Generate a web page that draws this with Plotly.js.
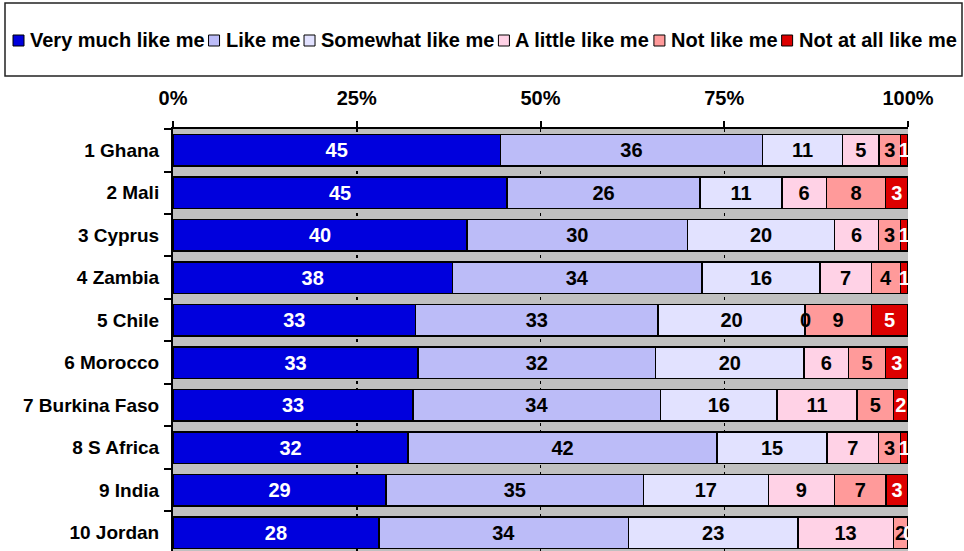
<!DOCTYPE html>
<html><head><meta charset="utf-8">
<script src="https://cdn.plot.ly/plotly-3.0.1.min.js"></script>
<style>html,body{margin:0;padding:0;background:#fff;} #chart{width:964px;height:551px;}</style>
</head><body><div id="chart"></div>
<script>
const countries = ["1 Ghana","2 Mali","3 Cyprus","4 Zambia","5 Chile","6 Morocco","7 Burkina Faso","8 S Africa","9 India","10 Jordan"];
const seriesNames = ["Very much like me","Like me","Somewhat like me","A little like me","Not like me","Not at all like me"];
const veryMuch = [45,45,40,38,33,33,33,32,29,28];
const likeMe   = [36,26,30,34,33,32,34,42,35,34];
const somewhat = [11,11,20,16,20,20,16,15,17,23];
const aLittle  = [5,6,6,7,0,6,11,7,9,13];
const notLike  = [3,8,3,4,9,5,5,3,7,2];
const notAtAll = [1,3,1,1,5,3,2,1,3,0];
const xTickVals = [0,25,50,75,100];
const xTickLabels = ["0%","25%","50%","75%","100%"];

const seriesValues = [veryMuch, likeMe, somewhat, aLittle, notLike, notAtAll];
const colors = ['#0000dd','#bcbcf8','#e2e2ff','#ffd2e6','#ff9a9a','#dd0000'];
const textColors = ['#fff','#000','#000','#000','#000','#fff'];
const FONT = '"Liberation Sans", Arial, sans-serif';

const traces = seriesValues.map((vals, i) => ({
  type: 'bar', orientation: 'h', name: seriesNames[i],
  x: vals, y: countries,
  text: vals.map(String), textposition: 'inside', insidetextanchor: 'middle',
  textangle: 0, constraintext: 'none',
  textfont: {family: FONT, size: 20, weight: 'bold', color: textColors[i]},
  marker: {color: colors[i], line: {color: '#000', width: 1.5}},
  hoverinfo: 'x+y+name'
}));

const annotations = [];
// zero-size segments still carry a "0" label at their (normalised) position
countries.forEach((c, r) => {
  const total = seriesValues.reduce((s, v) => s + v[r], 0);
  let cum = 0;
  seriesValues.forEach((vals, i) => {
    const v = vals[r];
    if (v === 0) {
      annotations.push({xref: 'x', yref: 'y', x: (cum + v / 2) / total * 100, y: c, text: '0',
        showarrow: false, xanchor: 'center', yanchor: 'middle', borderpad: 0,
        font: {family: FONT, size: 20, weight: 'bold', color: textColors[i]}});
    }
    cum += v;
  });
});

// pixel -> paper helpers for the hand-drawn legend box
const L = 173, R = 56, T = 129, H = 551, W = 964;
const pw = W - L - R, ph = H - T;
const px2x = p => (p - L) / pw;
const py2y = p => (H - p) / ph;

const ctx = document.createElement('canvas').getContext('2d');
ctx.font = 'bold 20px "Liberation Sans", Arial, sans-serif';
const shapes = [{type:'rect', xref:'paper', yref:'paper', x0:px2x(5), x1:px2x(962), y0:py2y(3), y1:py2y(76),
  line:{color:'#222', width:1.5}, fillcolor:'rgba(0,0,0,0)', layer:'above'}];
let cx = 13;
seriesNames.forEach((n, i) => {
  shapes.push({type:'rect', xref:'paper', yref:'paper', x0:px2x(cx), x1:px2x(cx + 11),
    y0:py2y(35), y1:py2y(46), line:{color:'#000', width:1}, fillcolor: colors[i]});
  cx += 11 + 5;
  annotations.push({xref:'paper', yref:'paper', x:px2x(cx), y:py2y(40), xanchor:'left', yanchor:'middle',
    text:n, showarrow:false, font:{family:FONT, size:20, weight:'bold', color:'#000'}, borderpad:0});
  cx += ctx.measureText(n).width + 5;
});

const layout = {
  width: W, height: H,
  margin: {l: L, r: R, t: T, b: 0, pad: 0},
  barmode: 'stack', barnorm: 'percent', bargap: 0.26,
  plot_bgcolor: '#c0c0c0', paper_bgcolor: '#fff',
  showlegend: false,
  font: {family: FONT, size: 20, color: '#000'},
  xaxis: {side: 'top', range: [0, 100], tickmode: 'array', tickvals: xTickVals, ticktext: xTickLabels,
    showgrid: true, gridcolor: '#000', gridwidth: 1.5, griddash: '3px,4px',
    showline: true, linecolor: '#000', linewidth: 2, ticks: 'outside', ticklen: 6, tickwidth: 2, tickcolor: '#000',
    tickfont: {family: FONT, size: 20, weight: 'bold'}, zeroline: false, fixedrange: true, ticklabelstandoff: 8},
  yaxis: {type: 'category', autorange: false, range: [9.43, -0.5], showgrid: false,
    showline: true, linecolor: '#000', linewidth: 2, ticks: 'outside', tickson: 'boundaries', ticklen: 7, tickwidth: 2, tickcolor: '#000',
    tickfont: {family: FONT, size: 19, weight: 'bold'}, zeroline: false, fixedrange: true, ticklabelstandoff: 8},
  shapes: shapes, annotations: annotations
};

Plotly.newPlot('chart', traces, layout, {displayModeBar: false, staticPlot: true});
</script>
</body></html>
